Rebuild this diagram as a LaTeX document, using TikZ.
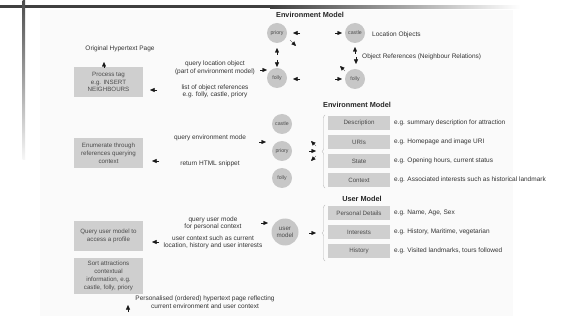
\documentclass[tikz,border=0pt]{standalone}
\usepackage{fontspec}
\setmainfont{Liberation Sans}
\usetikzlibrary{arrows.meta,decorations.pathreplacing}
\begin{document}
\begin{tikzpicture}[x=1pt,y=-1pt,
 txt/.style={font=\fontsize{6.5}{7.6}\selectfont, text=black!80, align=center, inner sep=0pt},
 ttl/.style={font=\fontsize{7.3}{8}\selectfont\bfseries, text=black!85, inner sep=0pt},
 lbox/.style={rectangle, fill=black!19, minimum width=69pt, align=center, font=\fontsize{6.2}{7.8}\selectfont, text=black!70, inner sep=1pt},
 rbox/.style={rectangle, fill=black!19, minimum width=62pt, minimum height=14pt, font=\fontsize{6.2}{7}\selectfont, text=black!70, inner sep=0pt},
 circ/.style={circle, fill=black!22, minimum size=20pt, inner sep=0pt, font=\fontsize{5.2}{6}\selectfont, text=black!70, align=center},
 ah/.style={-{Triangle[length=4.5pt,width=4pt]}, line width=0.3pt, black!90},
 br/.style={decorate, decoration={brace, amplitude=3pt}, black!30, line width=0.35pt}]

\useasboundingbox (0,0) rectangle (572,320);
\fill[white] (0,0) rectangle (572,320);
\fill[black!2] (40,10) rectangle (513,316);
% slide bars
\fill[black!75] (0,5.5) rectangle (270,8.5);
\shade[left color=black!75, right color=white] (270,5.5) rectangle (520,8.5);
\shade[top color=black!70, bottom color=black!3] (22.5,0) rectangle (25,160);

% ---- section 1
\node[txt] (orig) at (120,49) {Original Hypertext Page};
\node[lbox, minimum height=30pt] (b1) at (108.5,82) {Process tag\\e.g. INSERT\\NEIGHBOURS};
\node[ttl] (em1) at (310,15) {Environment Model};
\node[circ] (p1) at (277,33) {priory};
\node[circ] (f1) at (277,78) {folly};
\node[circ] (c2) at (355,33) {castle};
\node[circ] (f2) at (355,79) {folly};
\node[txt, anchor=west] (lo) at (372,35) {Location Objects};
\node[txt, anchor=west] (orf) at (362,57) {Object References (Neighbour Relations)};
\node[txt] (q1) at (215,68) {query location object\\(part of environment model)};
\node[txt] (r1) at (215,91.5) {list of object references\\e.g. folly, castle, priory};

% ---- section 2
\node[ttl] (em2) at (357,105) {Environment Model};
\node[lbox, minimum height=30pt] (b2) at (108.5,153) {Enumerate through\\references querying\\context};
\node[circ] (c3) at (282,124) {castle};
\node[circ] (p3) at (282,151) {priory};
\node[circ] (f3) at (282,178) {folly};
\node[txt] (q2) at (210,138) {query environment mode};
\node[txt] (r2) at (210,164) {return HTML snippet};
\node[rbox] (d) at (359,123) {Description};
\node[rbox] (u) at (359,142) {URIs};
\node[rbox] (s) at (359,161) {State};
\node[rbox] (cx) at (359,180) {Context};
\node[txt, anchor=west] (td) at (394,123) {e.g. summary description for attraction};
\node[txt, anchor=west] (tu) at (394,142) {e.g. Homepage and image URI};
\node[txt, anchor=west] (ts) at (394,161) {e.g. Opening hours, current status};
\node[txt, anchor=west] (tc) at (394,180) {e.g. Associated interests such as historical landmark};

% ---- section 3
\node[ttl] (um) at (362,199) {User Model};
\node[rbox] (pd) at (359,213) {Personal Details};
\node[rbox] (in) at (359,232) {Interests};
\node[rbox] (hi) at (359,251) {History};
\node[txt, anchor=west] (tpd) at (394,213) {e.g. Name, Age, Sex};
\node[txt, anchor=west] (tin) at (394,232) {e.g. History, Maritime, vegetarian};
\node[txt, anchor=west] (thi) at (394,251) {e.g. Visited landmarks, tours followed};
\node[circ, minimum size=27pt, font=\fontsize{6.2}{7}\selectfont] (umc) at (285,232) {user\\model};
\node[txt] (q3) at (213,223.5) {query user mode\\for personal context};
\node[txt] (r3) at (213,242.5) {user context such as current\\location, history and user interests};
\node[lbox, minimum height=30pt] (b3) at (108.5,236) {Query user model to\\access a profile};
\node[lbox, minimum height=36pt] (b4) at (108.5,276) {Sort attractions\\contextual\\information, e.g.\\castle, folly, priory};
\node[txt] (fin) at (205,302) {Personalised (ordered) hypertext page reflecting\\current environment and user context};

% braces
\coordinate (br1a) at (325,188); \coordinate (br1b) at (325,115);
\coordinate (br2a) at (325,261); \coordinate (br2b) at (325,205);
\draw[br] (br1a) -- (br1b);
\draw[br] (br2a) -- (br2b);

% arrowheads
\foreach \n/\tx/\ty/\hx/\hy in {
 1/104/68/104/62, 2/157/90/150/90, 3/260/70/267/70, 4/300/33/293/33,
 5/290/40/296/46, 6/277/55/277/48, 7/277/60/277/67, 8/300/79/293/79,
 9/335/33/342/33, 10/355/54/355/47, 11/356/57/356/64, 12/345/71/340/66,
 13/335/79/342/79, 14/159/161/152/161, 15/259/142/266/142, 16/316/146/311/141,
 17/309/151/316/151, 18/316/156/311/161, 19/261/223/268/223, 20/159/242/152/242,
 21/309/233/316/233, 22/128/312/128/305}
{
 \coordinate (t\n) at (\tx,\ty);
 \coordinate (h\n) at (\hx,\hy);
 \draw[ah] (t\n) -- (h\n);
}
\end{tikzpicture}
\end{document}
